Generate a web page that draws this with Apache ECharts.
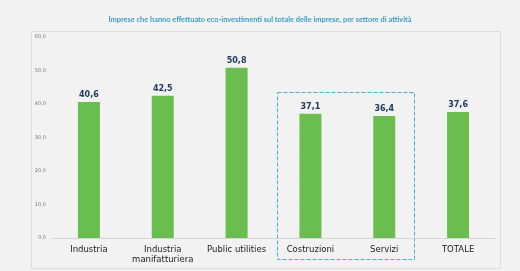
<!DOCTYPE html>
<html>
<head>
<meta charset="utf-8">
<script src="https://cdn.jsdelivr.net/npm/echarts@6/dist/echarts.min.js"></script>
<style>
  html, body { margin: 0; padding: 0; background: #f2f2f2; }
  #chart { width: 520px; height: 271px; }
</style>
</head>
<body>
<div id="chart"></div>
<script>
// dati del grafico
const titolo = "Imprese che hanno effettuato eco-investimenti sul totale delle imprese, per settore di attività";
const settori = ["Industria", "Industria\nmanifatturiera", "Public utilities", "Costruzioni", "Servizi", "TOTALE"];
const valori = [40.6, 42.5, 50.8, 37.1, 36.4, 37.6];

const fmt = (v) => v.toFixed(1).replace(".", ",");

const chart = echarts.init(document.getElementById("chart"));

const option = {
  backgroundColor: "#f2f2f2",
  animation: false,
  textStyle: { fontFamily: "DejaVu Sans" },
  title: {
    text: titolo,
    left: "center",
    top: 11,
    textStyle: { color: "#3d9ccc", fontSize: 7.4, fontWeight: "bold", fontFamily: "Lato" }
  },
  grid: { left: 52, right: 25, top: 37, bottom: 33 },
  xAxis: {
    type: "category",
    data: settori,
    axisLine: { lineStyle: { color: "#d6d6d6", width: 1 } },
    axisTick: { show: false },
    axisLabel: { color: "#222", fontSize: 8.5, lineHeight: 10, margin: 7, interval: 0 }
  },
  yAxis: {
    type: "value",
    min: 0,
    max: 60,
    interval: 10,
    axisLine: { show: false },
    axisTick: { show: false },
    splitLine: { show: false },
    axisLabel: { color: "#777", fontSize: 5, margin: 6, formatter: (v) => fmt(v) }
  },
  series: [{
    type: "bar",
    data: valori,
    barWidth: 22,
    itemStyle: { color: "#6abd4f" },
    label: {
      show: true,
      position: "top",
      distance: 3,
      color: "#1f3b63",
      fontSize: 8,
      fontWeight: "bold",
      formatter: (p) => fmt(p.value)
    }
  }],
  graphic: [
    {
      type: "rect",
      shape: { x: 31.5, y: 31.5, width: 469, height: 237 },
      style: { fill: null, stroke: "#dcdcdc", lineWidth: 1 },
      z: -1
    },
    {
      type: "rect",
      shape: { x: 277.5, y: 92.5, width: 137, height: 167 },
      style: { fill: null, stroke: "#45aee0", lineWidth: 1, lineDash: [4, 2] }
    }
  ]
};

chart.setOption(option);
</script>
</body>
</html>
